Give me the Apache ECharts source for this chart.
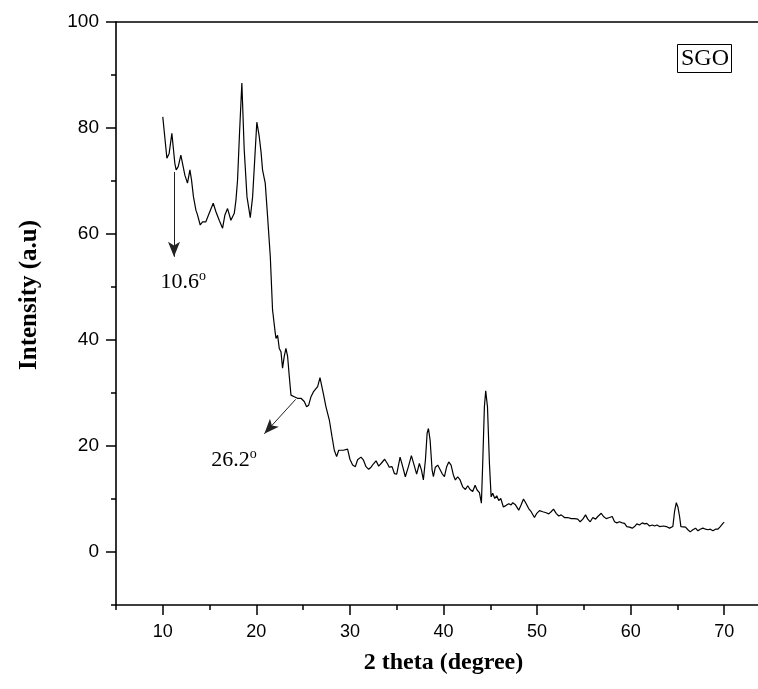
<!DOCTYPE html>
<html>
<head>
<meta charset="utf-8">
<script src="https://cdn.jsdelivr.net/npm/echarts@6/dist/echarts.min.js"></script>
<style>
  html, body { margin: 0; padding: 0; background: #fff; }
  #chart { width: 758px; height: 689px; }
</style>
</head>
<body>
<div id="chart"></div>
<script>
// XRD pattern of SGO
const twoTheta = [
  10.0, 10.44, 10.68, 10.97, 11.29, 11.43, 11.65, 11.93, 12.1, 12.36, 12.64, 12.9, 13.07, 13.28, 13.54, 13.71,
  14.0, 14.25, 14.6, 14.96, 15.39, 15.68, 16.03, 16.39, 16.64, 16.92, 17.28, 17.64, 17.82, 17.99, 18.2, 18.45,
  18.7, 19.0, 19.35, 19.6, 20.05, 20.3, 20.5, 20.66, 20.95, 21.2, 21.49, 21.73, 22.02, 22.1, 22.27, 22.45,
  22.63, 22.8, 22.98, 23.16, 23.34, 23.52, 23.7, 24.05, 24.4, 24.77, 25.12, 25.37, 25.59, 25.84, 26.09, 26.3,
  26.55, 26.8, 27.01, 27.16, 27.44, 27.8, 28.08, 28.33, 28.58, 28.8, 29.05, 29.3, 29.5, 29.75, 30.0, 30.29,
  30.58, 30.82, 31.18, 31.43, 31.72, 32.0, 32.26, 32.5, 32.79, 33.07, 33.33, 33.5, 33.71, 34.03, 34.2, 34.5,
  34.75, 35.0, 35.36, 35.64, 35.92, 36.25, 36.57, 36.86, 37.13, 37.42, 37.64, 37.85, 38.07, 38.25, 38.39, 38.57,
  38.78, 38.92, 39.13, 39.38, 39.56, 39.85, 40.1, 40.34, 40.56, 40.81, 41.06, 41.27, 41.52, 41.77, 42.05, 42.34,
  42.59, 42.84, 43.12, 43.38, 43.59, 43.84, 44.05, 44.19, 44.37, 44.51, 44.7, 44.91, 45.09, 45.26, 45.48, 45.69,
  45.9, 46.12, 46.4, 46.7, 46.97, 47.23, 47.4, 47.69, 48.04, 48.3, 48.55, 48.84, 49.1, 49.37, 49.72, 49.97,
  50.26, 50.61, 50.97, 51.25, 51.5, 51.76, 52.04, 52.32, 52.58, 52.93, 53.28, 53.65, 54.0, 54.35, 54.6, 54.89,
  55.18, 55.42, 55.68, 55.96, 56.25, 56.49, 56.86, 57.1, 57.39, 57.74, 58.03, 58.28, 58.52, 58.81, 59.1, 59.35,
  59.59, 59.88, 60.17, 60.42, 60.66, 60.95, 61.24, 61.49, 61.73, 62.02, 62.31, 62.56, 62.8, 63.09, 63.27, 63.52,
  63.81, 63.98, 64.16, 64.34, 64.51, 64.69, 64.88, 65.05, 65.23, 65.37, 65.58, 65.87, 66.12, 66.37, 66.65, 66.94,
  67.19, 67.44, 67.72, 68.01, 68.26, 68.51, 68.79, 69.08, 69.33, 69.58, 69.86, 70.0
];
const intensity = [
  82.1, 74.3, 75.2, 79.0, 73.3, 72.1, 72.7, 74.9, 74.6, 71.1, 69.6, 72.1, 70.2, 67.0, 64.5, 63.6,
  61.7, 62.3, 62.3, 63.9, 65.8, 64.2, 62.6, 61.1, 63.6, 64.8, 62.6, 63.9, 66.4, 70.2, 79.0, 88.5,
  76.0, 67.0, 63.1, 67.0, 81.1, 78.5, 75.5, 72.1, 69.6, 63.3, 55.7, 45.7, 41.3, 40.3, 40.9, 38.4,
  37.8, 34.7, 36.9, 38.4, 36.9, 33.1, 29.6, 29.3, 29.0, 29.0, 28.4, 27.4, 27.7, 29.3, 30.2, 29.9,
  31.2, 32.9, 32.8, 29.9, 27.4, 24.9, 21.8, 19.2, 18.0, 19.2, 19.2, 19.2, 19.0, 19.4, 17.5, 16.4,
  16.1, 17.4, 17.9, 17.4, 16.1, 15.6, 16.0, 16.6, 17.2, 16.2, 16.7, 16.4, 17.5, 16.6, 16.0, 16.1,
  14.8, 14.7, 17.9, 16.1, 14.2, 16.1, 18.2, 16.4, 14.7, 16.7, 15.5, 13.6, 17.4, 22.4, 23.3, 21.1,
  15.5, 14.2, 16.0, 16.4, 16.2, 14.8, 14.2, 16.1, 17.0, 16.4, 14.5, 13.6, 14.2, 13.6, 12.3, 11.8,
  12.5, 11.8, 11.4, 12.6, 11.7, 11.2, 9.2, 16.7, 27.4, 30.4, 27.4, 16.7, 10.4, 11.1, 10.1, 10.6,
  9.7, 10.1, 8.5, 8.8, 9.1, 8.9, 9.3, 8.9, 7.9, 8.9, 10.0, 9.1, 8.2, 7.6, 6.5, 7.3,
  7.8, 7.6, 7.4, 7.2, 7.6, 8.1, 7.3, 6.8, 7.0, 6.5, 6.5, 6.3, 6.3, 6.2, 5.7, 6.2,
  7.0, 6.2, 5.7, 6.5, 6.2, 6.7, 7.3, 6.7, 6.3, 6.5, 6.7, 5.7, 5.5, 5.7, 5.5, 5.4,
  4.8, 4.7, 4.5, 4.8, 5.3, 5.1, 5.5, 5.3, 5.4, 4.9, 5.1, 4.9, 5.1, 4.8, 4.5, 4.9,
  4.8, 5.1, 4.5, 4.5, 4.8, 7.6, 9.3, 8.5, 6.7, 4.8, 4.5, 4.7, 4.2, 3.8, 4.2, 4.5,
  4.0, 4.3, 4.5, 4.3, 4.2, 4.3, 4.0, 4.3, 4.3, 4.8, 5.4, 5.6
];

const xMajorTicks = [10, 20, 30, 40, 50, 60, 70];
const xMinorTicks = [5, 15, 25, 35, 45, 55, 65, 75];
const yMajorTicks = [0, 20, 40, 60, 80, 100];
const yMinorTicks = [-10, 10, 30, 50, 70, 90];

// peak annotations: arrow from -> to, label position
const peakLabels = ['10.6', '26.2'];
const arrowFrom = [[11.2, 71.7], [24.2, 28.8]];
const arrowTo = [[11.2, 55.7], [20.85, 22.3]];
const labelAt = [[12.2, 51.1], [17.6, 17.5]];

const sansFont = '"Liberation Sans", Arial, sans-serif';
const serifFont = '"Liberation Serif", "Times New Roman", serif';

const chart = echarts.init(document.getElementById('chart'));

const axisLine = { show: true, onZero: false, lineStyle: { color: '#000', width: 1.6 } };
const noLine = { show: false, onZero: false };

const option = {
  animation: false,
  backgroundColor: '#fff',
  title: {
    text: 'SGO',
    left: 677,
    top: 44,
    padding: [3, 3, 2, 4],
    borderWidth: 1,
    borderColor: '#000',
    textStyle: { fontFamily: serifFont, fontSize: 24, fontWeight: 'normal', color: '#000' }
  },
  // frame runs past the right edge of the picture, like the original
  grid: { left: 116, top: 22, width: 655, bottom: 84, outerBoundsMode: 'none' },
  xAxis: [
    {
      type: 'value', position: 'bottom', min: 5, max: 75,
      axisLine: axisLine,
      axisTick: { show: true, length: 10, customValues: xMajorTicks, lineStyle: { color: '#000', width: 1.5 } },
      axisLabel: { customValues: xMajorTicks, margin: 18, color: '#000', fontFamily: sansFont, fontSize: 18 },
      splitLine: { show: false },
      name: '2 theta (degree)', nameLocation: 'middle', nameGap: 46,
      nameTextStyle: { fontFamily: serifFont, fontSize: 24, fontWeight: 'bold', color: '#000' }
    },
    {
      type: 'value', position: 'bottom', min: 5, max: 75,
      axisLine: noLine,
      axisTick: { show: true, length: 5, customValues: xMinorTicks, lineStyle: { color: '#000', width: 1.5 } },
      axisLabel: { show: false },
      splitLine: { show: false }
    },
    {
      type: 'value', position: 'top', min: 5, max: 75,
      axisLine: axisLine, axisTick: { show: false }, axisLabel: { show: false }, splitLine: { show: false }
    }
  ],
  yAxis: [
    {
      type: 'value', position: 'left', min: -10, max: 100,
      axisLine: axisLine,
      axisTick: { show: true, length: 10, customValues: yMajorTicks, lineStyle: { color: '#000', width: 1.5 } },
      axisLabel: { customValues: yMajorTicks, margin: 17, color: '#000', fontFamily: sansFont, fontSize: 19 },
      splitLine: { show: false }
    },
    {
      type: 'value', position: 'left', min: -10, max: 100,
      axisLine: noLine,
      axisTick: { show: true, length: 5, customValues: yMinorTicks, lineStyle: { color: '#000', width: 1.5 } },
      axisLabel: { show: false },
      splitLine: { show: false }
    },
    {
      type: 'value', position: 'right', min: -10, max: 100,
      axisLine: axisLine, axisTick: { show: false }, axisLabel: { show: false }, splitLine: { show: false }
    }
  ],
  graphic: [
    {
      type: 'text', x: 30, y: 295, rotation: Math.PI / 2,
      style: {
        text: 'Intensity (a.u)', fill: '#000', align: 'center', verticalAlign: 'middle',
        fontFamily: serifFont, fontSize: 25, fontWeight: 'bold'
      }
    }
  ],
  series: [
    {
      type: 'line',
      xAxisIndex: 0,
      yAxisIndex: 0,
      data: twoTheta.map((t, i) => [t, intensity[i]]),
      symbol: 'none',
      smooth: false,
      lineStyle: { color: '#000', width: 1.2 },
      markLine: {
        silent: true,
        symbol: ['none', 'arrow'],
        symbolSize: [9, 15],
        label: { show: false },
        lineStyle: { color: '#222', width: 1, type: 'solid' },
        data: arrowFrom.map((p, i) => [{ coord: p }, { coord: arrowTo[i] }])
      },
      markPoint: {
        silent: true,
        symbol: 'circle',
        symbolSize: 0,
        data: peakLabels.map((txt, i) => ({
          coord: labelAt[i],
          label: {
            show: true,
            position: 'inside',
            formatter: '{a|' + txt + '}{b|o}',
            rich: {
              a: { fontFamily: serifFont, fontSize: 22, color: '#000', lineHeight: 24, verticalAlign: 'bottom' },
              b: { fontFamily: serifFont, fontSize: 14, color: '#000', lineHeight: 24, verticalAlign: 'top' }
            }
          }
        }))
      }
    }
  ]
};

chart.setOption(option);
</script>
</body>
</html>
